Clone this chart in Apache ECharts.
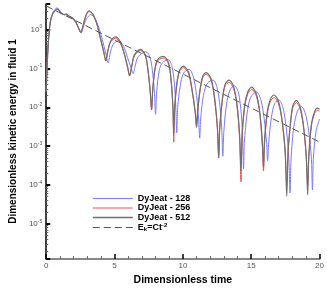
<!DOCTYPE html>
<html><head><meta charset="utf-8">
<script src="https://cdn.jsdelivr.net/npm/echarts@6/dist/echarts.min.js"></script>
<style>html,body{margin:0;padding:0;background:#fff}#c{width:327px;height:291px}</style>
</head><body><div id="c"></div>
<script>
// Dimensionless time samples and kinetic energy values
var t512 = [0.00,0.08,0.18,0.30,0.50,0.84,1.10,1.32,1.45,1.60,1.90,2.15,2.35,2.53,2.70,2.90,3.12,3.40,3.70,3.95,4.20,4.36,4.50,4.70,5.06,5.40,5.70,5.95,6.10,6.25,6.45,6.90,7.25,7.45,7.60,7.71,7.80,7.98,8.20,8.58,8.95,9.15,9.27,9.33,9.40,9.55,9.75,10.03,10.40,10.65,10.90,11.00,11.08,11.25,11.45,11.70,12.05,12.30,12.52,12.62,12.70,12.90,13.10,13.39,13.70,13.95,14.15,14.25,14.33,14.52,14.75,15.03,15.35,15.60,15.80,15.90,15.98,16.18,16.40,16.67,17.00,17.25,17.48,17.60,17.70,17.90,18.05,18.30,18.55,18.80,19.02,19.13,19.22,19.42,19.65,19.83,20.00];
var e512 = [0.025,0.16,0.63,1.58,2.63,3.39,2.63,2.43,2.51,2.29,2.0,1.58,1.12,0.85,1.26,2.24,2.93,2.51,1.41,0.63,0.28,0.158,0.28,0.50,0.65,0.50,0.25,0.112,0.065,0.112,0.224,0.31,0.224,0.089,0.028,0.0087,0.032,0.112,0.178,0.204,0.141,0.045,0.010,0.0021,0.010,0.040,0.089,0.115,0.083,0.032,0.0079,0.0032,0.0079,0.028,0.063,0.078,0.056,0.020,0.0032,5.0e-4,0.0032,0.0178,0.040,0.050,0.035,0.0126,0.0020,2.3e-4,0.0020,0.0112,0.025,0.033,0.0234,0.0089,0.0016,2.8e-4,0.0016,0.0079,0.0158,0.0207,0.0141,0.0050,7.9e-4,5.1e-5,7.9e-4,0.0050,0.0112,0.0151,0.0112,0.0040,6.3e-4,5.6e-5,6.3e-4,0.0040,0.0079,0.0095,0.0089];
var t256 = t512;
var e256 = [0.025,0.16,0.63,1.58,2.63,3.39,2.63,2.43,2.51,2.29,2.0,1.58,1.12,0.85,1.30,2.35,3.09,2.60,1.41,0.62,0.27,0.155,0.27,0.47,0.60,0.46,0.24,0.108,0.064,0.108,0.21,0.29,0.21,0.085,0.027,0.0085,0.030,0.105,0.165,0.186,0.128,0.042,0.0090,0.00126,0.0090,0.036,0.082,0.105,0.076,0.029,0.0072,0.0030,0.0072,0.026,0.057,0.071,0.051,0.018,0.0030,5.0e-4,0.0030,0.0160,0.036,0.044,0.031,0.0115,0.0015,1.2e-4,0.0015,0.0100,0.022,0.029,0.0205,0.0080,0.0012,2.3e-4,0.0012,0.0070,0.0140,0.0178,0.0122,0.0045,7.0e-4,1.0e-4,7.0e-4,0.0045,0.0098,0.0132,0.0098,0.0036,5.5e-4,1.0e-4,5.5e-4,0.0036,0.0070,0.0083,0.0080];
var t128 = [0.00,0.08,0.18,0.30,0.50,0.80,1.10,1.35,1.50,1.65,1.95,2.20,2.40,2.55,2.72,2.95,3.26,3.55,3.85,4.10,4.35,4.53,4.68,4.90,5.30,5.65,5.95,6.20,6.36,6.50,6.72,7.29,7.60,7.80,7.92,8.00,8.08,8.27,8.50,8.93,9.20,9.38,9.48,9.55,9.62,9.80,10.05,10.45,10.75,11.00,11.15,11.23,11.30,11.50,11.80,12.22,12.50,12.72,12.85,12.92,13.00,13.20,13.45,13.74,14.05,14.28,14.38,14.44,14.50,14.70,14.95,15.38,15.70,15.95,16.12,16.20,16.28,16.48,16.72,17.02,17.30,17.55,17.75,17.84,17.92,18.12,18.38,18.66,18.95,19.20,19.40,19.48,19.55,19.75,20.00];
var e128 = [0.025,0.16,0.63,1.58,2.82,3.63,2.75,2.40,2.51,2.24,2.0,1.51,1.05,0.83,1.20,1.91,2.43,2.0,1.12,0.56,0.25,0.139,0.25,0.42,0.52,0.38,0.19,0.105,0.074,0.112,0.20,0.27,0.19,0.071,0.0224,0.0066,0.025,0.089,0.141,0.168,0.112,0.040,0.010,0.0022,0.010,0.035,0.076,0.095,0.063,0.020,0.0050,0.0016,0.0050,0.020,0.042,0.050,0.032,0.010,0.0025,5.5e-4,0.0025,0.0126,0.028,0.036,0.025,0.0063,0.00126,2.6e-4,0.00126,0.0071,0.0178,0.025,0.0158,0.0050,0.00126,4.2e-4,0.00126,0.0056,0.0126,0.0155,0.0105,0.0032,5.0e-4,6.2e-5,5.0e-4,0.0032,0.0079,0.0105,0.0071,0.0025,5.0e-4,7.4e-5,5.0e-4,0.0025,0.0050];
var tFit = [0, 20];
var eFit = [4.06, 1.27e-3];
var xTicks = [0, 5, 10, 15, 20];
var seriesNames = ['DyJeat - 128', 'DyJeat - 256', 'DyJeat - 512', 'E{sub|k}=Ct{sup|-2}'];

function zip(a, b) { return a.map(function (v, i) { return [v, b[i]]; }); }

var FONT = 'Liberation Sans, Arial, sans-serif';
var chart = echarts.init(document.getElementById('c'), null, { renderer: 'canvas' });
chart.setOption({
  animation: false,
  backgroundColor: '#fff',
  grid: { left: 36, right: 6, top: 4, bottom: 23 },
  legend: {
    orient: 'vertical', left: 92, top: 194, padding: 0, itemWidth: 40, itemHeight: 10, itemGap: 0.5,
    data: [
      { name: seriesNames[0], lineStyle: { width: 1 } },
      { name: seriesNames[1], lineStyle: { width: 1 } },
      { name: seriesNames[2], lineStyle: { width: 1.6 } },
      { name: seriesNames[3], lineStyle: { width: 1 } }
    ],
    itemStyle: { opacity: 0, borderWidth: 0 },
    textStyle: { fontFamily: FONT, fontWeight: 'bold', fontSize: 9, color: '#000',
      rich: { sub: { fontSize: 6, fontWeight: 'bold', verticalAlign: 'bottom', padding: [4, 0, 0, 0] },
              sup: { fontSize: 6, fontWeight: 'bold', verticalAlign: 'top', padding: [0, 0, 4, 0] } } }
  },
  xAxis: {
    type: 'value', min: 0, max: 20, interval: 5,
    name: 'Dimensionless time', nameLocation: 'middle', nameGap: 9,
    nameTextStyle: { fontFamily: FONT, fontWeight: 'bold', fontSize: 10.5, color: '#000', verticalAlign: 'top' },
    axisLine: { lineStyle: { color: '#888', width: 2 } },
    axisTick: { inside: true, length: 5, lineStyle: { color: '#000', width: 1.5 } },
    minorTick: { show: true, splitNumber: 5, length: 3, lineStyle: { color: '#666', width: 1 } },
    axisLabel: { margin: 3, fontFamily: FONT, fontSize: 8, color: '#555',
      formatter: function (v) { return xTicks.indexOf(v) >= 0 ? String(v) : ''; } },
    splitLine: { show: false }
  },
  yAxis: {
    type: 'log', logBase: 10, min: 1.23e-6, max: 4.57,
    name: 'Dimensionless kinetic energy in fluid 1', nameLocation: 'middle', nameGap: 28,
    nameTextStyle: { fontFamily: FONT, fontWeight: 'bold', fontSize: 10, color: '#000' },
    axisLine: { show: true, lineStyle: { color: '#000', width: 1.5 } },
    axisTick: { inside: true, length: 4, lineStyle: { color: '#000', width: 2 } },
    minorTick: { show: true, splitNumber: 9, length: 2, lineStyle: { color: '#666', width: 1 } },
    axisLabel: { margin: 4, fontFamily: FONT, fontSize: 8, color: '#555', showMinLabel: false, showMaxLabel: false,
      formatter: function (v) { return '10{s|' + Math.round(Math.log10(v)) + '}'; },
      rich: { s: { fontSize: 5, verticalAlign: 'top', padding: [0, 0, 5, 0], color: '#555' } } },
    splitLine: { show: false }
  },
  series: [
    { name: seriesNames[0], type: 'line', data: zip(t128, e128), symbol: 'none', smooth: 0.3,
      lineStyle: { color: '#7a7aff', width: 1 }, itemStyle: { color: '#7a7aff' } },
    { name: seriesNames[1], type: 'line', data: zip(t256, e256), symbol: 'none', smooth: 0.3,
      lineStyle: { color: '#e05555', width: 1 }, itemStyle: { color: '#e05555' } },
    { name: seriesNames[2], type: 'line', data: zip(t512, e512), symbol: 'none', smooth: 0.3,
      lineStyle: { color: '#707070', width: 1.2 }, itemStyle: { color: '#707070' } },
    { name: seriesNames[3], type: 'line', data: zip(tFit, eFit), symbol: 'none',
      lineStyle: { color: '#555', width: 1, type: [7, 4] }, itemStyle: { color: '#555' } }
  ]
});
</script></body></html>
